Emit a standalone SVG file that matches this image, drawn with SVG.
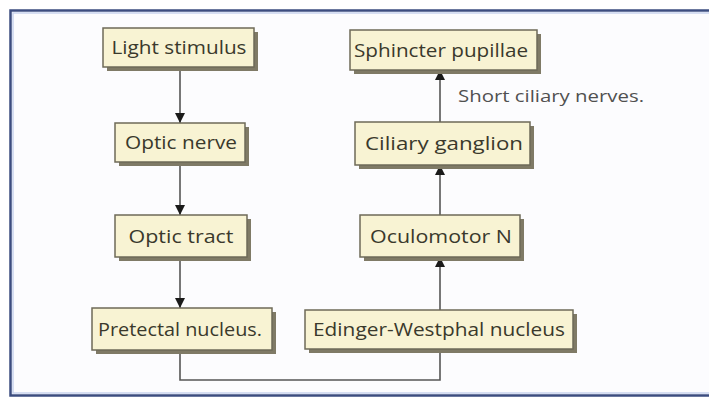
<svg xmlns="http://www.w3.org/2000/svg" width="709" height="398" viewBox="0 0 709 398">
<defs>
<style>
.shadow{fill:#7f7a66;}
.box{fill:#f8f3d3;stroke:#6e6a58;stroke-width:1.5;}
.t{font-family:"Open Sans","Liberation Sans",sans-serif;font-size:19px;fill:#3a392c;text-anchor:middle;}
.lbl{font-family:"Open Sans","Liberation Sans",sans-serif;font-size:16px;fill:#505050;}
.conn{fill:none;stroke:#555555;stroke-width:1.6;}
</style>
<marker id="arr" viewBox="0 0 10 10" refX="10" refY="5" markerWidth="10" markerHeight="10" markerUnits="userSpaceOnUse" orient="auto">
<path d="M0,0 L10,5 L0,10 Z" fill="#1a1a1a"/>
</marker>
</defs>
<rect x="0" y="0" width="709" height="398" fill="#ffffff"/>
<rect x="11" y="11" width="700" height="383" fill="#fcfcfe"/>
<path d="M709,10.5 H10.5 V395.5 H709" fill="none" stroke="#3c4d80" stroke-width="2.5"/>
<path d="M709,13 H13 V393 H709" fill="none" stroke="#c9d3ee" stroke-width="1.5"/>

<g id="connectors">
<line class="conn" x1="180" y1="67" x2="180" y2="123" marker-end="url(#arr)"/>
<line class="conn" x1="180" y1="162" x2="180" y2="215" marker-end="url(#arr)"/>
<line class="conn" x1="180" y1="257" x2="180" y2="308" marker-end="url(#arr)"/>
<path class="conn" d="M180,350 V380 H440 V349"/>
<line class="conn" x1="440" y1="310" x2="440" y2="257" marker-end="url(#arr)"/>
<line class="conn" x1="440" y1="215" x2="440" y2="165" marker-end="url(#arr)"/>
<line class="conn" x1="440" y1="122" x2="440" y2="70" marker-end="url(#arr)"/>
</g>

<g id="light-stimulus">
<rect class="shadow" x="107" y="32" width="151" height="39"/>
<rect class="box" x="103" y="28" width="151" height="39"/>
<text class="t" x="179" y="54" textLength="135" lengthAdjust="spacingAndGlyphs">Light stimulus</text>
</g>
<g id="optic-nerve">
<rect class="shadow" x="119" y="127" width="130" height="39"/>
<rect class="box" x="115" y="123" width="130" height="39"/>
<text class="t" x="181" y="149" textLength="112" lengthAdjust="spacingAndGlyphs">Optic nerve</text>
</g>
<g id="optic-tract">
<rect class="shadow" x="119" y="219" width="132" height="42"/>
<rect class="box" x="115" y="215" width="132" height="42"/>
<text class="t" x="181" y="243" textLength="105" lengthAdjust="spacingAndGlyphs">Optic tract</text>
</g>
<g id="pretectal-nucleus">
<rect class="shadow" x="96" y="312" width="180" height="42"/>
<rect class="box" x="92" y="308" width="180" height="42"/>
<text class="t" x="180" y="336" textLength="164" lengthAdjust="spacingAndGlyphs">Pretectal nucleus.</text>
</g>
<g id="edinger-westphal-nucleus">
<rect class="shadow" x="309" y="314" width="268" height="39"/>
<rect class="box" x="305" y="310" width="268" height="39"/>
<text class="t" x="439" y="336" textLength="252" lengthAdjust="spacingAndGlyphs">Edinger-Westphal nucleus</text>
</g>
<g id="oculomotor-n">
<rect class="shadow" x="364" y="219" width="160" height="42"/>
<rect class="box" x="360" y="215" width="160" height="42"/>
<text class="t" x="441" y="243" textLength="142" lengthAdjust="spacingAndGlyphs">Oculomotor N</text>
</g>
<g id="ciliary-ganglion">
<rect class="shadow" x="359" y="126" width="175" height="43"/>
<rect class="box" x="355" y="122" width="175" height="43"/>
<text class="t" x="444" y="150" textLength="158" lengthAdjust="spacingAndGlyphs">Ciliary ganglion</text>
</g>
<g id="sphincter-pupillae">
<rect class="shadow" x="354" y="34" width="187" height="40"/>
<rect class="box" x="350" y="30" width="187" height="40"/>
<text class="t" x="441" y="57" textLength="174" lengthAdjust="spacingAndGlyphs">Sphincter pupillae</text>
</g>
<text class="lbl" x="458" y="102" textLength="186" lengthAdjust="spacingAndGlyphs">Short ciliary nerves.</text>
</svg>
